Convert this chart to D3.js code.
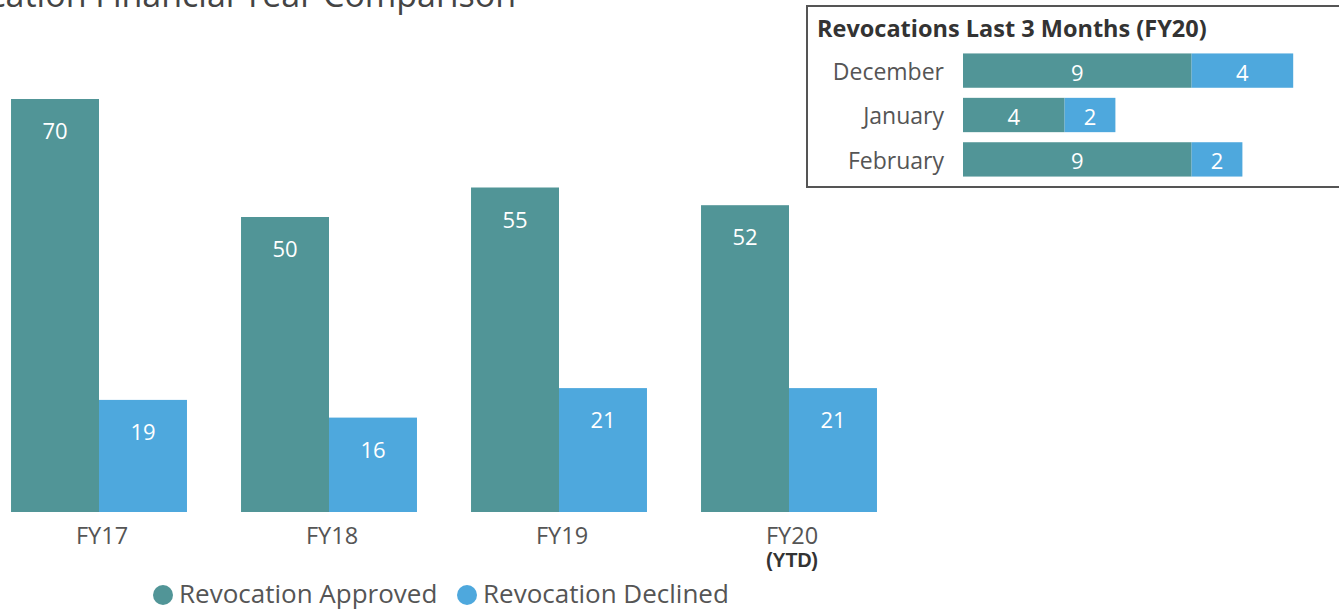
<!DOCTYPE html>
<html><head><meta charset="utf-8">
<script src="https://cdn.jsdelivr.net/npm/d3@7"></script>
<style>
html,body{margin:0;padding:0;background:#fff;overflow:hidden}
svg{display:block;font-family:"Open Sans","Noto Sans",sans-serif}
</style></head>
<body>
<svg id="c" width="1339" height="610"></svg>
<script>
// ---- data ----
const years = ["FY17", "FY18", "FY19", "FY20"];
const yearSub = ["", "", "", "(YTD)"];
const approved = [70, 50, 55, 52];
const declined = [19, 16, 21, 21];
const seriesNames = ["Revocation Approved", "Revocation Declined"];
const months = ["December", "January", "February"];
const monthApproved = [9, 4, 9];
const monthDeclined = [4, 2, 2];
const mainTitle = "Revocation Financial Year Comparison";
const insetTitle = "Revocations Last 3 Months (FY20)";

const colors = ["#519597", "#4ea8dd"];
const svg = d3.select("#c");

// title (clipped at top like the reference)
svg.append("text").attr("x", 516).attr("y", 7).attr("text-anchor", "end")
  .attr("font-size", 34).attr("fill", "#444").text(mainTitle);

// ---- main grouped bar chart ----
const x0 = d3.scaleBand().domain(years).range([-16, 904]).paddingInner(0.235).paddingOuter(0.1175);
const x1 = d3.scaleBand().domain([0, 1]).range([0, x0.bandwidth()]);
const y = d3.scaleLinear().domain([0, 70]).range([512, 99]);

const rows = years.map((yr, i) => ({yr, vals: [approved[i], declined[i]]}));
const g = svg.append("g");
const grp = g.selectAll("g.grp").data(rows).join("g").attr("class", "grp")
  .attr("transform", d => `translate(${x0(d.yr)},0)`);
grp.selectAll("rect").data(d => d.vals).join("rect")
  .attr("x", (d, j) => x1(j)).attr("width", x1.bandwidth())
  .attr("y", d => y(d)).attr("height", d => y(0) - y(d))
  .attr("fill", (d, j) => colors[j]);
grp.selectAll("text.v").data(d => d.vals).join("text").attr("class", "v")
  .attr("x", (d, j) => x1(j) + x1.bandwidth() / 2).attr("y", d => y(d) + 40)
  .attr("text-anchor", "middle").attr("font-size", 22).attr("fill", "#fff").text(d => d);

// x axis
const xAxis = d3.axisBottom(x0).tickSize(0).tickPadding(0);
const ax = svg.append("g").attr("transform", "translate(0,512)").call(xAxis);
ax.select(".domain").remove();
ax.selectAll(".tick text").attr("font-size", 23.5).attr("fill", "#555")
  .attr("font-family", "'Open Sans','Noto Sans',sans-serif").attr("dy", 0).attr("y", 32).attr("x", 3);
ax.selectAll(".tick").each(function(d, i) {
  if (yearSub[i]) d3.select(this).append("text").attr("y", 567 - 512).attr("x", 3).attr("text-anchor", "middle")
    .attr("font-size", 19.5).attr("font-weight", "bold").attr("fill", "#333").text(yearSub[i]);
});

// legend
const leg = svg.append("g");
const legX = [163, 467];
seriesNames.forEach((n, i) => {
  leg.append("circle").attr("cx", legX[i]).attr("cy", 595).attr("r", 10).attr("fill", colors[i]);
  leg.append("text").attr("x", legX[i] + 16).attr("y", 603).attr("font-size", 26)
    .attr("fill", "#555").text(n);
});

// ---- inset stacked bar chart ----
svg.append("rect").attr("x", 807).attr("y", 6).attr("width", 540).attr("height", 181)
  .attr("fill", "#fff").attr("stroke", "#555").attr("stroke-width", 2);
svg.append("text").attr("x", 817).attr("y", 37).attr("font-size", 23.5).attr("font-weight", "bold")
  .attr("fill", "#333").text(insetTitle);

const xs = d3.scaleLinear().domain([0, 13]).range([963, 963 + 13 * 25.4]);
const ys = d3.scaleBand().domain(months).range([49, 181]).paddingInner(0.227).paddingOuter(0.1);
const stackData = months.map((m, i) => ({m, a: monthApproved[i], d: monthDeclined[i]}));
const stack = d3.stack().keys(["a", "d"])(stackData);
const inset = svg.append("g");
stack.forEach((layer, k) => {
  inset.selectAll(null).data(layer).join("rect")
    .attr("x", s => xs(s[0])).attr("width", s => xs(s[1]) - xs(s[0]))
    .attr("y", s => ys(s.data.m)).attr("height", ys.bandwidth()).attr("fill", colors[k]);
  inset.selectAll(null).data(layer).join("text")
    .attr("x", s => (xs(s[0]) + xs(s[1])) / 2).attr("y", s => ys(s.data.m) + ys.bandwidth() / 2 + 10)
    .attr("text-anchor", "middle").attr("font-size", 22).attr("fill", "#fff").text(s => s[1] - s[0]);
});
const yAx = svg.append("g").attr("transform", "translate(944,0)")
  .call(d3.axisLeft(ys).tickSize(0).tickPadding(0));
yAx.select(".domain").remove();
yAx.selectAll(".tick text").attr("font-size", 23).attr("fill", "#555").attr("dy", "0.4em")
  .attr("font-family", "'Open Sans','Noto Sans',sans-serif");
</script>
</body></html>
